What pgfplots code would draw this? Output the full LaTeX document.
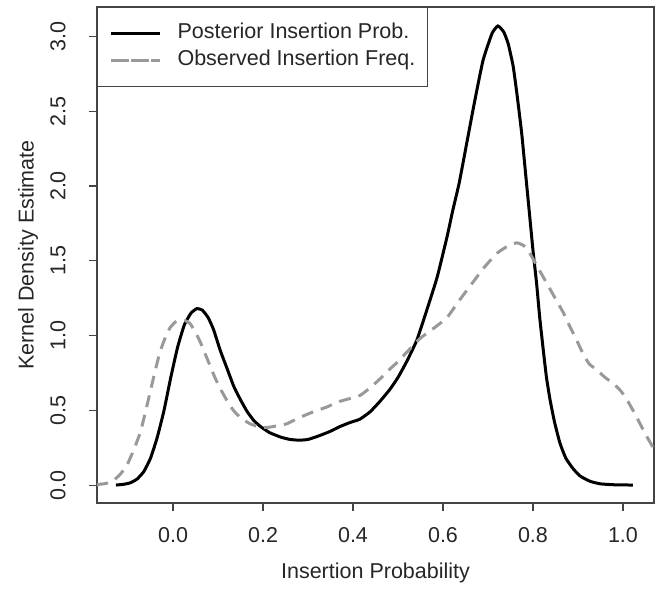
\documentclass[border=0pt]{standalone}
\usepackage{pgfplots}
\pgfplotsset{compat=1.18}
\usepackage{fontspec}
\setmainfont{Liberation Sans}
\definecolor{dashgray}{HTML}{999999}
\definecolor{axgray}{HTML}{444444}
\newcommand{\fs}{\fontsize{21.5bp}{25bp}\selectfont}
\begin{document}
\begin{tikzpicture}
\begin{axis}[
  name=ax,
  scale only axis,
  width=557bp, height=496bp,
  xmin=-0.169, xmax=1.069,
  ymin=-0.12, ymax=3.197,
  axis line style={axgray, line width=1.1bp},
  xtick={0,0.2,0.4,0.6,0.8,1.0},
  ytick={0,0.5,1,1.5,2,2.5,3},
  xtick pos=bottom, ytick pos=left,
  tick align=outside,
  major tick length=8bp,
  every tick/.style={axgray, line width=1.1bp},
  /pgf/number format/assume math mode=true,
  /pgf/number format/fixed,
  /pgf/number format/fixed zerofill,
  /pgf/number format/precision=1,
  tick label style={font=\fs, text=black!85},
  xticklabel style={anchor=center, yshift=-24bp},
  yticklabel style={rotate=90, anchor=center, yshift=31bp},
  xlabel={Insertion Probability},
  ylabel={Kernel Density Estimate},
  label style={font=\fs, text=black!85},
  xlabel style={at={(axis description cs:0.5,0)}, anchor=center, yshift=-70bp},
  ylabel style={at={(axis description cs:0,0.5)}, anchor=center, yshift=69bp},
  legend style={at={(axis description cs:0,1)}, anchor=north west,
    draw=axgray, line width=1.1bp, font=\fs, text=black!85,
    inner xsep=12bp, inner ysep=16bp, row sep=7bp, column sep=16bp,
    nodes={inner sep=0pt, text height=15bp, text depth=5bp}},
  legend cell align=left,
  legend image code/.code={\path (0bp,0bp) -- (49bp,0bp); \draw[#1] (6bp,0bp) -- (49bp,0bp);},
  clip=true,
]
\addplot[black, line width=3bp, smooth, tension=0.3] coordinates {
(-0.127,0.0) (-0.11,0.005) (-0.095,0.015) (-0.08,0.04) (-0.065,0.09) (-0.05,0.18)
(-0.035,0.32) (-0.02,0.50) (-0.005,0.72) (0.01,0.92) (0.025,1.07) (0.04,1.15)
(0.053,1.18) (0.065,1.17) (0.078,1.12) (0.09,1.04) (0.105,0.90) (0.12,0.78)
(0.135,0.66) (0.15,0.57) (0.165,0.49) (0.18,0.43) (0.195,0.39) (0.215,0.35)
(0.24,0.32) (0.26,0.305) (0.28,0.30) (0.30,0.305) (0.325,0.33) (0.35,0.36)
(0.37,0.39) (0.395,0.42) (0.415,0.44) (0.438,0.49) (0.46,0.56) (0.482,0.64)
(0.50,0.72) (0.52,0.83) (0.542,0.97) (0.564,1.17) (0.587,1.39) (0.609,1.66)
(0.622,1.84) (0.636,2.02) (0.653,2.29) (0.67,2.56) (0.689,2.84) (0.709,3.02)
(0.722,3.07) (0.735,3.03) (0.745,2.95) (0.756,2.80) (0.765,2.60) (0.775,2.35)
(0.784,2.07) (0.793,1.79) (0.800,1.57) (0.808,1.35) (0.815,1.12) (0.823,0.90)
(0.830,0.72) (0.838,0.57) (0.848,0.42) (0.86,0.28) (0.873,0.18) (0.889,0.11)
(0.905,0.06) (0.927,0.025) (0.95,0.008) (0.98,0.002) (1.022,0.0)
};
\addlegendentry{Posterior Insertion Prob.}
\addplot[dashgray, line width=3bp, dash pattern=on 12bp off 8bp, smooth, tension=0.3] coordinates {
(-0.171,0.003) (-0.15,0.01) (-0.133,0.03) (-0.118,0.07) (-0.103,0.13) (-0.088,0.23)
(-0.073,0.35) (-0.062,0.48) (-0.051,0.62) (-0.04,0.76) (-0.029,0.89) (-0.018,0.98)
(-0.007,1.05) (0.005,1.09) (0.016,1.10) (0.027,1.10) (0.038,1.08) (0.05,1.02)
(0.06,0.96) (0.071,0.88) (0.082,0.80) (0.093,0.72) (0.104,0.65) (0.119,0.57)
(0.134,0.50) (0.15,0.45) (0.171,0.41) (0.19,0.39) (0.208,0.385) (0.23,0.395)
(0.253,0.41) (0.28,0.45) (0.312,0.49) (0.34,0.52) (0.371,0.56) (0.395,0.58)
(0.416,0.60) (0.438,0.65) (0.46,0.71) (0.48,0.77) (0.498,0.82) (0.52,0.89)
(0.549,0.98) (0.58,1.05) (0.609,1.12) (0.635,1.23) (0.66,1.33) (0.69,1.45)
(0.72,1.55) (0.745,1.60) (0.764,1.62) (0.78,1.60) (0.793,1.55) (0.808,1.47)
(0.823,1.39) (0.838,1.31) (0.853,1.23) (0.868,1.15) (0.882,1.06) (0.897,0.97)
(0.911,0.88) (0.925,0.81) (0.942,0.77) (0.96,0.72) (0.978,0.68) (0.995,0.63)
(1.009,0.57) (1.024,0.49) (1.038,0.41) (1.052,0.33) (1.069,0.24)
};
\addlegendentry{Observed Insertion Freq.}
\end{axis}
\pgfresetboundingbox
\path[use as bounding box] (ax.south west) ++(-97bp,-87bp) rectangle ++(664bp,590bp);
\end{tikzpicture}
\end{document}
